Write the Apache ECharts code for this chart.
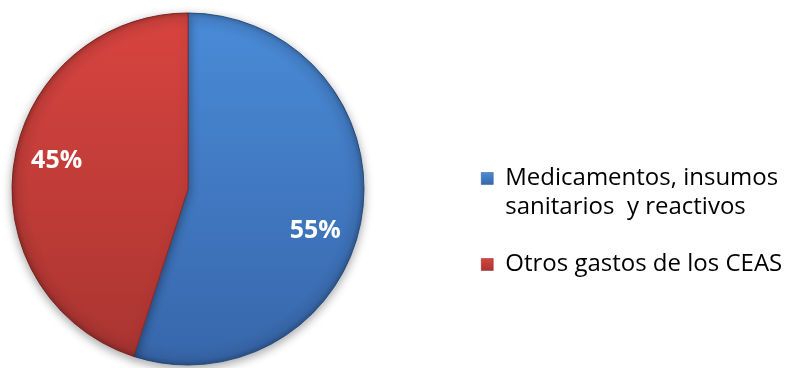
<!DOCTYPE html>
<html>
<head>
<meta charset="utf-8">
<script src="https://cdn.jsdelivr.net/npm/echarts@6/dist/echarts.min.js"></script>
<style>
  html, body { margin: 0; padding: 0; background: #ffffff; }
  #chart { width: 785px; height: 368px; }
</style>
</head>
<body>
<div id="chart"></div>
<script>
// Distribución del gasto (porcentajes)
const categories = ['Medicamentos, insumos\nsanitarios  y reactivos', 'Otros gastos de los CEAS'];
const values = [55, 45];
const labels = ['55%', '45%'];

// Tonos de cada porción: claro arriba, oscuro abajo
const topColors = ['#4a8bd8', '#d8443f'];
const bottomColors = ['#3766aa', '#a93431'];
const edgeColors = ['#2c5690', '#8e2b28'];
// Pequeño desplazamiento de cada etiqueta respecto al centro del sector
const labelNudge = [[-6, 21], [2, -7]];

const CX = 188, CY = 189, R = 176;

function sliceFill(i) {
  return new echarts.graphic.LinearGradient(0, CY - R, 0, CY + R, [
    { offset: 0, color: topColors[i] },
    { offset: 1, color: bottomColors[i] }
  ], true);
}
function iconFill(i) {
  return new echarts.graphic.LinearGradient(0, 0, 0, 1, [
    { offset: 0, color: topColors[i] },
    { offset: 1, color: bottomColors[i] }
  ]);
}

const chart = echarts.init(document.getElementById('chart'), null, { renderer: 'canvas' });

const pieData = categories.map((name, i) => ({
  name, value: values[i],
  itemStyle: { color: sliceFill(i), borderColor: edgeColors[i], borderWidth: 1 }
}));

// Capa de borde biselado sobre cada porción
const bevelData = categories.map((name, i) => ({
  name, value: values[i],
  itemStyle: {
    color: new echarts.graphic.RadialGradient(CX, CY, R, [
      { offset: 0, color: 'rgba(0,0,0,0)' },
      { offset: 0.9, color: 'rgba(0,0,0,0)' },
      { offset: 0.97, color: 'rgba(0,0,0,0.06)' },
      { offset: 1, color: 'rgba(0,0,0,0.22)' }
    ], true)
  }
}));

// Etiquetas de porcentaje colocadas a tres cuartos del radio
const labelData = categories.map((name, i) => ({
  name, value: values[i],
  label: { formatter: labels[i], offset: labelNudge[i] }
}));

const legendText = {
  fontFamily: '"Open Sans", sans-serif',
  fontSize: 24,
  color: '#000000',
  lineHeight: 29
};

// Cuadro cuadrado centrado en una caja más ancha, para separar el texto
const squareIcon = 'path://M0,0H10V10H0Z';

chart.setOption({
  animation: false,
  backgroundColor: '#ffffff',
  legend: [
    {
      orient: 'vertical',
      left: 481,
      top: 135,
      padding: 0,
      icon: squareIcon,
      symbolKeepAspect: true,
      itemWidth: 26,
      itemHeight: 12,
      selectedMode: false,
      // línea vacía arriba para que el cuadro quede junto a la primera línea
      formatter: (name) => ' \n' + name,
      data: [{ name: categories[0], itemStyle: { color: iconFill(0), borderColor: edgeColors[0], borderWidth: 0.5 } }],
      textStyle: legendText
    },
    {
      orient: 'vertical',
      left: 481,
      top: 250,
      padding: 0,
      icon: squareIcon,
      symbolKeepAspect: true,
      itemWidth: 26,
      itemHeight: 12,
      selectedMode: false,
      data: [{ name: categories[1], itemStyle: { color: iconFill(1), borderColor: edgeColors[1], borderWidth: 0.5 } }],
      textStyle: legendText
    }
  ],
  series: [
    {
      type: 'pie',
      center: [CX, CY],
      radius: [0, R],
      startAngle: 90,
      clockwise: true,
      silent: true,
      label: { show: false },
      labelLine: { show: false },
      itemStyle: { shadowBlur: 10, shadowOffsetY: 3, shadowColor: 'rgba(0,0,0,0.35)' },
      data: pieData
    },
    {
      type: 'pie',
      center: [CX, CY],
      radius: [0, R],
      startAngle: 90,
      clockwise: true,
      silent: true,
      legendHoverLink: false,
      label: { show: false },
      labelLine: { show: false },
      data: bevelData
    },
    {
      type: 'pie',
      center: [CX, CY],
      radius: [R / 2, R],
      startAngle: 90,
      clockwise: true,
      silent: true,
      legendHoverLink: false,
      itemStyle: { color: 'rgba(0,0,0,0)' },
      label: {
        show: true,
        position: 'inside',
        color: '#ffffff',
        fontFamily: '"Open Sans", sans-serif',
        fontWeight: 'bold',
        fontSize: 25
      },
      labelLine: { show: false },
      data: labelData
    }
  ]
});
</script>
</body>
</html>
